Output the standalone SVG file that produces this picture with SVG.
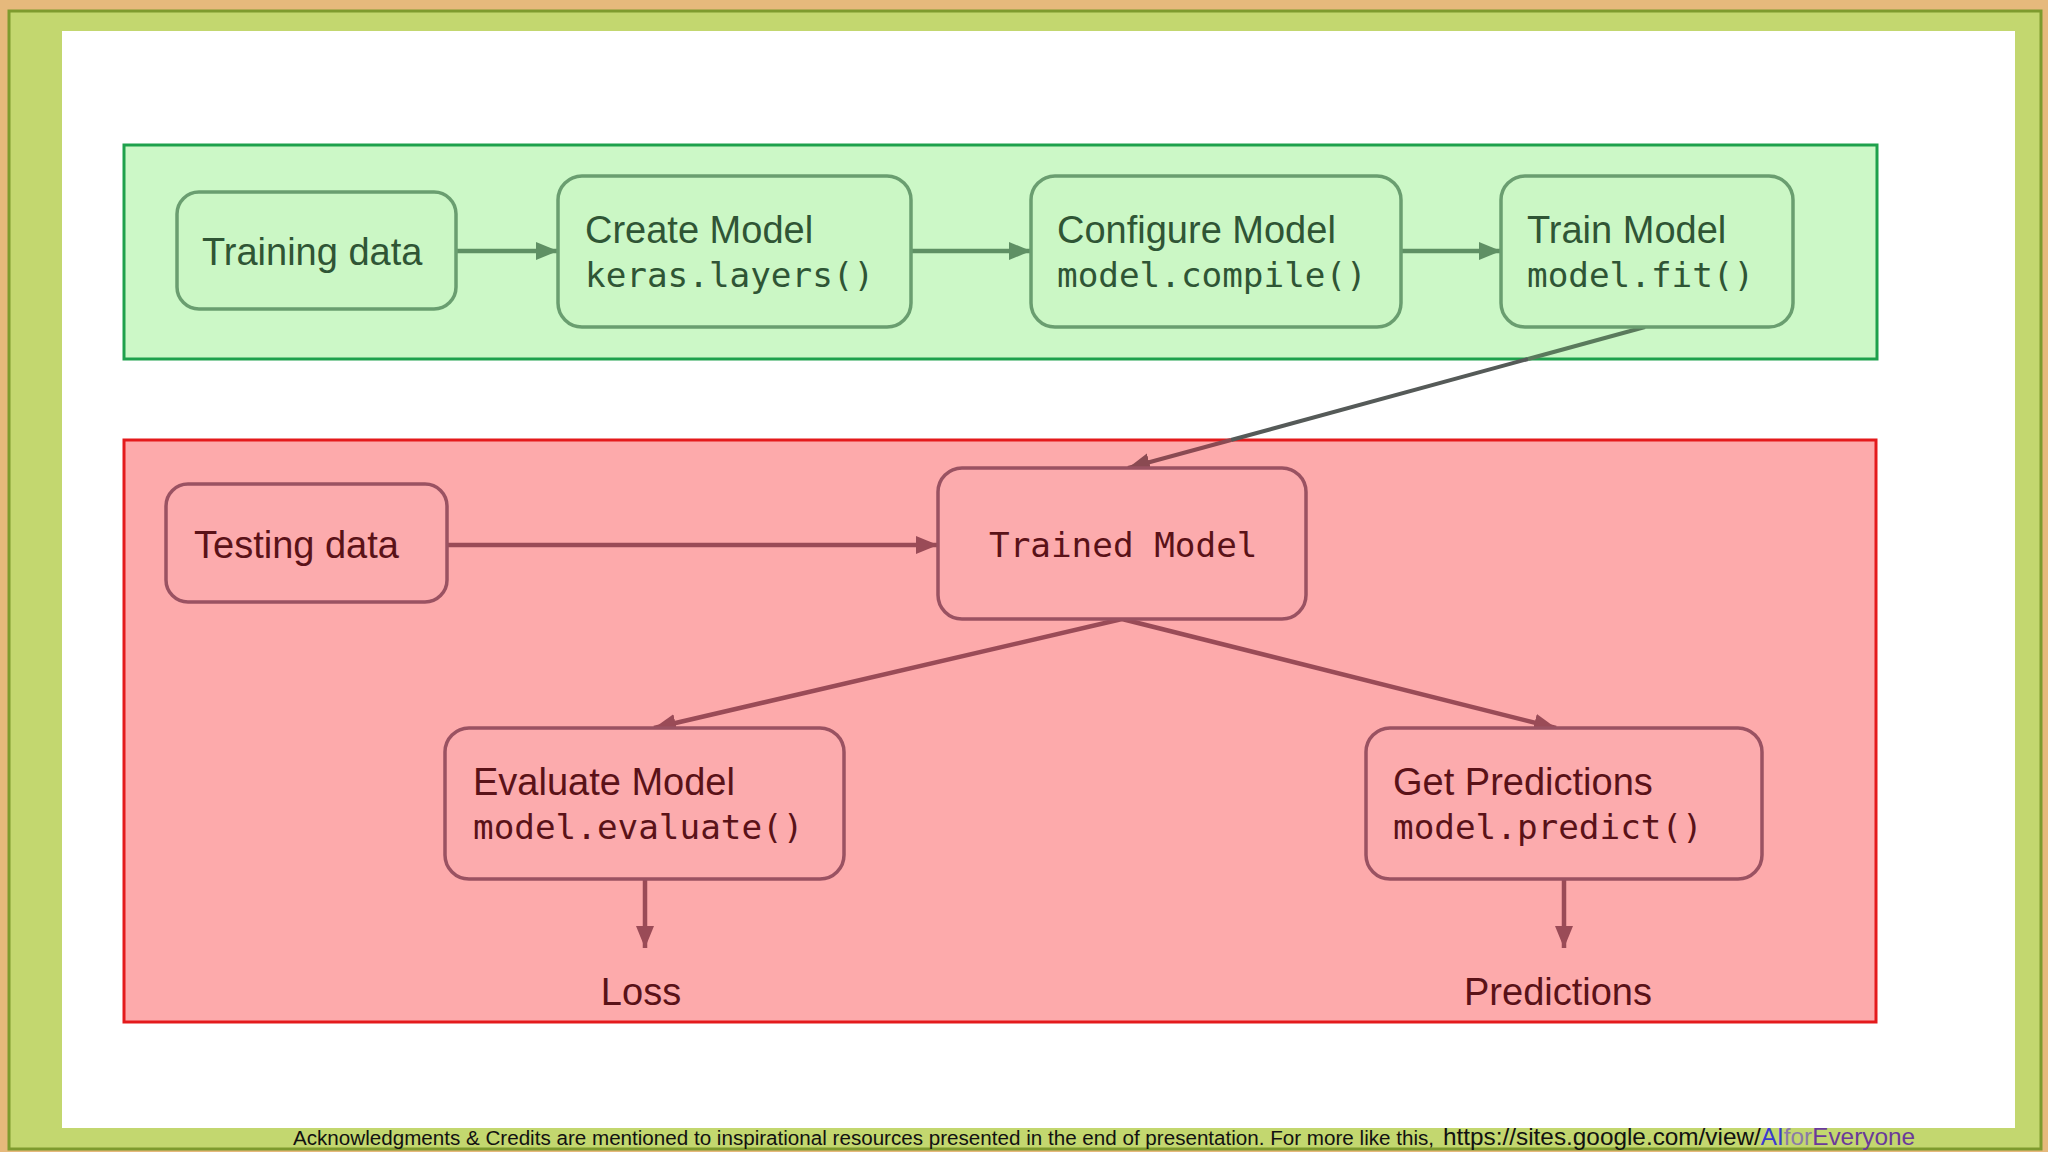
<svg xmlns="http://www.w3.org/2000/svg" width="2048" height="1152" viewBox="0 0 2048 1152">
<defs>
<style>
.sans{font-family:"Liberation Sans",Arial,sans-serif;font-size:38px}
.mono{font-family:"DejaVu Sans Mono","Liberation Mono",monospace;font-size:34.3px}
.gnode{fill:#cbf7c5;stroke:#6a9e70;stroke-width:3.5}
.rnode{fill:#fcabad;stroke:#9a5262;stroke-width:3.5}
.gtxt{fill:#2f5535}
.rtxt{fill:#5a1218}
.gline{stroke:#5f9064;stroke-width:4.5;fill:none}
.rline{stroke:#9a4b57;stroke-width:4.5;fill:none}
.foot{font-family:"Liberation Sans",Arial,sans-serif}
</style>
<marker id="ag" markerUnits="userSpaceOnUse" markerWidth="24" markerHeight="20" refX="22" refY="10" orient="auto">
<path d="M0,1 L22,10 L0,19 Z" fill="#5f9064"/>
</marker>
<marker id="ar" markerUnits="userSpaceOnUse" markerWidth="24" markerHeight="20" refX="22" refY="10" orient="auto">
<path d="M0,1 L22,10 L0,19 Z" fill="#9a4b57"/>
</marker>
<marker id="ad" markerUnits="userSpaceOnUse" markerWidth="24" markerHeight="20" refX="22" refY="10" orient="auto">
<path d="M0,1 L22,10 L0,19 Z" fill="#8a4a52"/>
</marker>
</defs>

<g id="frame">
<rect x="0" y="0" width="2048" height="1152" fill="#e6b97c"/>
<rect x="9" y="11" width="2032" height="1138" fill="#c3d76f" stroke="#7e9b2e" stroke-width="3"/>
<rect x="62" y="31" width="1953" height="1097" fill="#ffffff"/>
</g>

<g id="training-group">
<rect x="124" y="145" width="1753" height="214" fill="#ccf8c7" stroke="#1ea14c" stroke-width="3"/>
</g>
<g id="testing-group">
<rect x="124" y="440" width="1752" height="582" fill="#fdaaab" stroke="#e41a1c" stroke-width="3"/>
</g>

<g id="connectors">
<line class="gline" x1="456" y1="251" x2="558" y2="251" marker-end="url(#ag)"/>
<line class="gline" x1="911" y1="251" x2="1031" y2="251" marker-end="url(#ag)"/>
<line class="gline" x1="1401" y1="251" x2="1501" y2="251" marker-end="url(#ag)"/>
<line x1="1645" y1="327" x2="1528" y2="359" stroke="#5a7a5c" stroke-width="4"/>
<line x1="1528" y1="359" x2="1231" y2="440" stroke="#555a58" stroke-width="4"/>
<line x1="1231" y1="440" x2="1128" y2="468" stroke="#8a4a52" stroke-width="4" marker-end="url(#ad)"/>
<line class="rline" x1="447" y1="545" x2="938" y2="545" marker-end="url(#ar)"/>
<line class="rline" x1="1122" y1="619" x2="654" y2="728" marker-end="url(#ar)"/>
<line class="rline" x1="1122" y1="619" x2="1556" y2="728" marker-end="url(#ar)"/>
<line class="rline" x1="645" y1="879" x2="645" y2="948" marker-end="url(#ar)"/>
<line class="rline" x1="1564" y1="879" x2="1564" y2="948" marker-end="url(#ar)"/>
</g>

<g id="training-data">
<rect class="gnode" x="177" y="192" width="279" height="117" rx="22"/>
<text class="sans gtxt" x="202" y="265">Training data</text>
</g>
<g id="create-model">
<rect class="gnode" x="558" y="176" width="353" height="151" rx="24"/>
<text class="sans gtxt" x="585" y="243">Create Model</text>
<text class="mono gtxt" x="585" y="287">keras.layers()</text>
</g>
<g id="configure-model">
<rect class="gnode" x="1031" y="176" width="370" height="151" rx="24"/>
<text class="sans gtxt" x="1057" y="243">Configure Model</text>
<text class="mono gtxt" x="1057" y="287">model.compile()</text>
</g>
<g id="train-model">
<rect class="gnode" x="1501" y="176" width="292" height="151" rx="24"/>
<text class="sans gtxt" x="1527" y="243">Train Model</text>
<text class="mono gtxt" x="1527" y="287">model.fit()</text>
</g>

<g id="testing-data">
<rect class="rnode" x="166" y="484" width="281" height="118" rx="22"/>
<text class="sans rtxt" x="194" y="558">Testing data</text>
</g>
<g id="trained-model">
<rect class="rnode" x="938" y="468" width="368" height="151" rx="24"/>
<text class="mono rtxt" x="989" y="557">Trained Model</text>
</g>
<g id="evaluate-model">
<rect class="rnode" x="445" y="728" width="399" height="151" rx="24"/>
<text class="sans rtxt" x="473" y="795">Evaluate Model</text>
<text class="mono rtxt" x="473" y="839">model.evaluate()</text>
</g>
<g id="get-predictions">
<rect class="rnode" x="1366" y="728" width="396" height="151" rx="24"/>
<text class="sans rtxt" x="1393" y="795">Get Predictions</text>
<text class="mono rtxt" x="1393" y="839">model.predict()</text>
</g>
<g id="loss">
<text class="sans rtxt" x="641" y="1005" text-anchor="middle">Loss</text>
</g>
<g id="predictions">
<text class="sans rtxt" x="1558" y="1005" text-anchor="middle">Predictions</text>
</g>

<g id="footer">
<text class="foot" x="293" y="1145" font-size="20" fill="#111" textLength="1141" lengthAdjust="spacingAndGlyphs">Acknowledgments &amp; Credits are mentioned to inspirational resources presented in the end of presentation.  For more like this,</text>
<text class="foot" x="1443" y="1145" font-size="24" fill="#111" textLength="472" lengthAdjust="spacingAndGlyphs">https://sites.google.com/view/<tspan fill="#3a3ad0">AI</tspan><tspan fill="#8a7aa8">for</tspan><tspan fill="#6a3a9a">Everyone</tspan></text>
</g>
</svg>
